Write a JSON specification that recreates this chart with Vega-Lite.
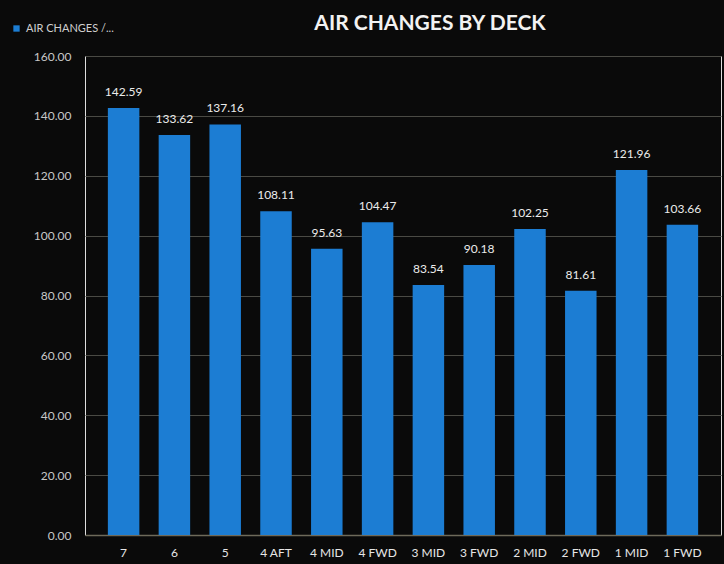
{
  "$schema": "https://vega.github.io/schema/vega-lite/v6.json",
  "autosize": "none",
  "width": 636,
  "height": 479,
  "padding": {"left": 85, "top": 56, "right": 3, "bottom": 29},
  "background": "#0a0a0a",
  "title": {
    "text": "AIR CHANGES BY DECK",
    "color": "#f2f2f2",
    "font": "Lato",
    "fontSize": 21,
    "fontWeight": "bold",
    "anchor": "middle",
    "dx": 27,
    "dy": 11,
    "offset": 0
  },
  "data": {
    "values": [
      {"deck": "7", "value": 142.59, "series": "AIR CHANGES /..."},
      {"deck": "6", "value": 133.62, "series": "AIR CHANGES /..."},
      {"deck": "5", "value": 137.16, "series": "AIR CHANGES /..."},
      {"deck": "4 AFT", "value": 108.11, "series": "AIR CHANGES /..."},
      {"deck": "4 MID", "value": 95.63, "series": "AIR CHANGES /..."},
      {"deck": "4 FWD", "value": 104.47, "series": "AIR CHANGES /..."},
      {"deck": "3 MID", "value": 83.54, "series": "AIR CHANGES /..."},
      {"deck": "3 FWD", "value": 90.18, "series": "AIR CHANGES /..."},
      {"deck": "2 MID", "value": 102.25, "series": "AIR CHANGES /..."},
      {"deck": "2 FWD", "value": 81.61, "series": "AIR CHANGES /..."},
      {"deck": "1 MID", "value": 121.96, "series": "AIR CHANGES /..."},
      {"deck": "1 FWD", "value": 103.66, "series": "AIR CHANGES /..."}
    ]
  },
  "encoding": {
    "x": {
      "field": "deck",
      "type": "nominal",
      "sort": null,
      "scale": {"paddingInner": 0.38, "paddingOuter": 0.45},
      "axis": {
        "title": null,
        "labelAngle": 0,
        "labelColor": "#e6e6e6",
        "labelFont": "Lato",
        "labelFontSize": 12,
        "labelPadding": 12,
        "ticks": false,
        "domainColor": "#6e6a5a",
        "domainWidth": 1.5
      }
    },
    "y": {
      "field": "value",
      "type": "quantitative",
      "scale": {"domain": [0, 160]},
      "axis": {
        "title": null,
        "values": [0, 20, 40, 60, 80, 100, 120, 140, 160],
        "format": ".2f",
        "labelColor": "#c8c8c8",
        "labelFont": "Lato",
        "labelFontSize": 12,
        "labelPadding": 14,
        "ticks": false,
        "domain": false,
        "gridColor": "#4a4a44",
        "gridWidth": 1
      }
    }
  },
  "layer": [
    {
      "mark": {"type": "bar"},
      "encoding": {
        "color": {
          "field": "series",
          "type": "nominal",
          "scale": {"range": ["#1c7dd3"]},
          "legend": {
            "title": null,
            "orient": "none",
            "legendX": -74,
            "legendY": -33,
            "symbolType": "square",
            "symbolSize": 40,
            "labelColor": "#cfcfcf",
            "labelFont": "Lato",
            "labelFontSize": 11,
            "labelLimit": 200
          }
        }
      }
    },
    {
      "mark": {"type": "text", "baseline": "bottom", "dy": -9, "color": "#ececec", "font": "Lato", "fontSize": 12},
      "encoding": {
        "text": {"field": "value", "type": "quantitative", "format": ".2f"}
      }
    }
  ]
}
